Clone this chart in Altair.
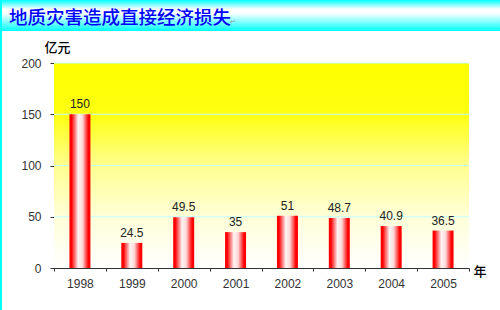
import altair as alt
import pandas as pd

years = ["1998", "1999", "2000", "2001", "2002", "2003", "2004", "2005"]
values = [150, 24.5, 49.5, 35, 51, 48.7, 40.9, 36.5]
labels = ["150", "24.5", "49.5", "35", "51", "48.7", "40.9", "36.5"]
grid_values = [50, 100, 150, 200]
title_text = "地质灾害造成直接经济损失"

W, H = 415, 205
PL, PT, PR, PB = 54, 63, 31, 42

df = pd.DataFrame({"year": years, "value": values, "label": labels})
one = pd.DataFrame({"a": [0]})
grid_df = pd.DataFrame({"v": grid_values})

bar_grad = alt.LinearGradient(
    gradient="linear", x1=0, x2=1, y1=0, y2=0,
    stops=[
        alt.GradientStop(color="#FF0000", offset=0),
        alt.GradientStop(color="#FF0000", offset=0.1),
        alt.GradientStop(color="#FFF4F4", offset=0.42),
        alt.GradientStop(color="#FFD8D8", offset=0.62),
        alt.GradientStop(color="#FF0000", offset=0.9),
        alt.GradientStop(color="#FF0000", offset=1),
    ],
)
bg_grad = alt.LinearGradient(
    gradient="linear", x1=0, x2=0, y1=0, y2=1,
    stops=[
        alt.GradientStop(color="#FFFF00", offset=0),
        alt.GradientStop(color="#FFFF10", offset=0.25),
        alt.GradientStop(color="#FFFF90", offset=0.5),
        alt.GradientStop(color="#FFFFD8", offset=0.75),
        alt.GradientStop(color="#FFFFFF", offset=1),
    ],
)
head_grad = alt.LinearGradient(
    gradient="linear", x1=0, x2=0, y1=0, y2=1,
    stops=[
        alt.GradientStop(color="#00FFFF", offset=0),
        alt.GradientStop(color="#FFFFFF", offset=0.3),
        alt.GradientStop(color="#FFFFFF", offset=0.42),
        alt.GradientStop(color="#00FFFF", offset=1),
    ],
)

header = alt.Chart(one).mark_rect(fill=head_grad).encode(
    x=alt.value(-PL), x2=alt.value(W + PR), y=alt.value(-PT), y2=alt.value(-PT + 31)
)
left_border = alt.Chart(one).mark_rect(fill="#00FFFF").encode(
    x=alt.value(-PL), x2=alt.value(-PL + 2), y=alt.value(-PT), y2=alt.value(H + PB)
)
title = alt.Chart(one).mark_text(
    text=title_text, font="Noto Sans CJK SC", fontSize=18.5, fontWeight=500,
    color="#0000FF", align="left", baseline="middle",
).encode(x=alt.value(-PL + 9), y=alt.value(-PT + 18))
para = alt.Chart(one).mark_text(
    text="↵", fontSize=7, color="#999999", align="left", baseline="middle",
).encode(x=alt.value(-PL + 230), y=alt.value(-PT + 22))

background = alt.Chart(one).mark_rect(fill=bg_grad).encode(
    x=alt.value(0), x2=alt.value(W), y=alt.value(0), y2=alt.value(H)
)

yscale = alt.Scale(domain=[0, 200])
xscale = alt.Scale(domain=years, paddingInner=0, paddingOuter=0)

grid = alt.Chart(grid_df).mark_rule(color="#C0FFFF", strokeWidth=1).encode(
    y=alt.Y("v:Q", scale=yscale)
)

xaxis = alt.Axis(
    title="年", titleAngle=0, titleX=W + 4, titleY=3, titleAlign="left",
    titleBaseline="middle", titleFont="Noto Sans CJK SC", titleFontSize=13,
    titleFontWeight=500, titleColor="#000000",
    labelFont="Liberation Sans", labelFontSize=12, labelColor="#333333",
    labelPadding=7, labelAngle=0, tickBand="extent", tickSize=3,
    tickColor="#333333", domainColor="#333333",
)
yaxis = alt.Axis(
    title="亿元", titleAngle=0, titleX=-10, titleY=-16, titleAlign="left",
    titleBaseline="middle", titleFont="Noto Sans CJK SC", titleFontSize=13,
    titleFontWeight=500, titleColor="#000000",
    values=[0, 50, 100, 150, 200], grid=False,
    labelFont="Liberation Sans", labelFontSize=12, labelColor="#333333",
    labelPadding=9, tickSize=4, tickColor="#333333", domainColor="#333333",
)

bars = alt.Chart(df).mark_bar(fill=bar_grad, size=21).encode(
    x=alt.X("year:N", scale=xscale, axis=xaxis, sort=years),
    y=alt.Y("value:Q", scale=yscale, axis=yaxis),
)
texts = alt.Chart(df).mark_text(
    font="Liberation Sans", fontSize=12, color="#222222", baseline="bottom", dy=-3
).encode(
    x=alt.X("year:N", scale=xscale, sort=years),
    y=alt.Y("value:Q", scale=yscale),
    text="label:N",
)

chart = alt.layer(
    header, left_border, title, para, background, grid, bars, texts
).properties(
    width=W, height=H,
    autosize=alt.AutoSizeParams(type="none"),
    padding={"left": PL, "top": PT, "right": PR, "bottom": PB},
    background="#FFFFFF",
).configure_view(stroke=None)

chart.save("out.html", embed_options={"renderer": "svg", "actions": False})
